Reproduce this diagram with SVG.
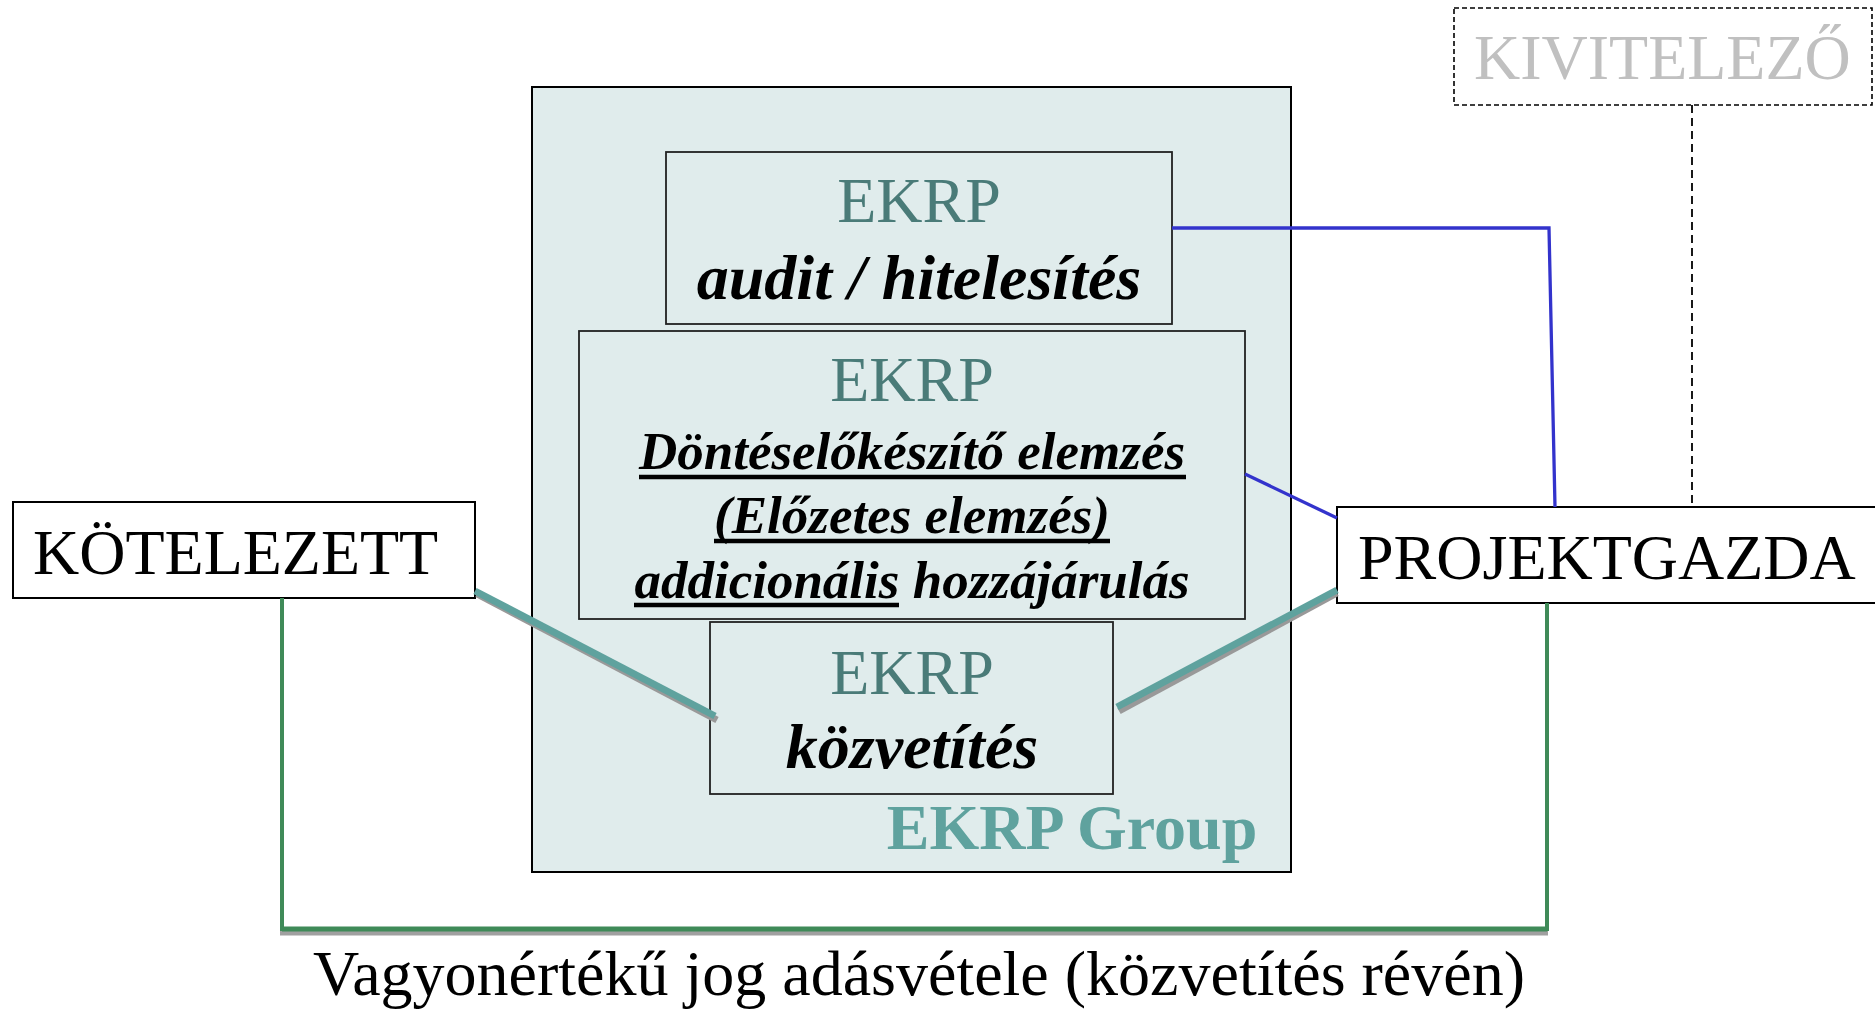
<svg xmlns="http://www.w3.org/2000/svg" width="1875" height="1010" viewBox="0 0 1875 1010">
<style>
.serif{font-family:"Liberation Serif","Times New Roman",serif}
.ekrp{font-family:"Liberation Serif",serif;font-size:64px;fill:#4a7b78;text-anchor:middle}
.bi{font-family:"Liberation Serif",serif;font-weight:bold;font-style:italic;fill:#000;text-anchor:middle}
.box{fill:none;stroke:#222;stroke-width:1.8}
.wbox{fill:#fff;stroke:#000;stroke-width:2}
.lbl{font-family:"Liberation Serif",serif;font-size:64px;fill:#000}
.ul{stroke:#000;stroke-width:4.5}
</style>
<rect width="1875" height="1010" fill="#fff"/>
<g id="ekrp-group">
  <rect x="532" y="87" width="759" height="785" fill="#e0ecec" stroke="#000" stroke-width="2"/>
  <text x="1072" y="849" class="serif" font-size="64" font-weight="bold" fill="#5fa29e" text-anchor="middle">EKRP Group</text>
</g>
<g id="audit">
  <rect x="666" y="152" width="506" height="172" class="box"/>
  <text x="919" y="222" class="ekrp">EKRP</text>
  <text x="919" y="299" class="bi" font-size="64">audit / hitelesítés</text>
</g>
<g id="dontes">
  <rect x="579" y="331" width="666" height="288" class="box"/>
  <text x="912" y="401" class="ekrp">EKRP</text>
  <text x="912" y="469" class="bi" font-size="53">Döntéselőkészítő elemzés</text>
  <text x="912" y="533" class="bi" font-size="53">(Előzetes elemzés)</text>
  <text x="912" y="598" class="bi" font-size="53">addicionális hozzájárulás</text>
  <line x1="639" y1="477" x2="1186" y2="477" class="ul"/>
  <line x1="714" y1="541" x2="1110" y2="541" class="ul"/>
  <line x1="634" y1="605" x2="899" y2="605" class="ul"/>
</g>
<g id="kozvetites">
  <rect x="710" y="622" width="403" height="172" class="box"/>
  <text x="912" y="694" class="ekrp">EKRP</text>
  <text x="912" y="768" class="bi" font-size="64">közvetítés</text>
</g>
<g id="kotelezett">
  <rect x="13" y="502" width="462" height="96" class="wbox"/>
  <text x="33" y="574" class="lbl">KÖTELEZETT</text>
</g>
<g id="projektgazda">
  <rect x="1337" y="507" width="545" height="96" class="wbox"/>
  <text x="1358" y="579" class="lbl">PROJEKTGAZDA</text>
</g>
<g id="kivitelezo">
  <rect x="1454" y="8" width="418" height="97" fill="#fff" stroke="#000" stroke-width="1.6" stroke-dasharray="5,3"/>
  <text x="1474" y="79" class="lbl" style="fill:#c0c0c0">KIVITELEZŐ</text>
</g>
<g id="connectors" fill="none">
  <line x1="1692" y1="105" x2="1692" y2="507" stroke="#000" stroke-width="1.8" stroke-dasharray="8,5"/>
  <polyline points="1172,228 1549,228 1555,507" stroke="#3333cc" stroke-width="3.3"/>
  <line x1="1245" y1="474" x2="1337" y2="518" stroke="#3333cc" stroke-width="3.3"/>
  <line x1="477" y1="594" x2="717" y2="720" stroke="#999" stroke-width="7"/>
  <line x1="475" y1="591" x2="715" y2="716" stroke="#5fa29e" stroke-width="7"/>
  <line x1="1337" y1="593" x2="1119" y2="711" stroke="#999" stroke-width="7"/>
  <line x1="1337" y1="590" x2="1117" y2="707" stroke="#5fa29e" stroke-width="7"/>
  <line x1="280" y1="933" x2="1548" y2="933" stroke="#a0a0a0" stroke-width="5"/>
  <polyline points="282,598 282,929 1547,929 1547,603" stroke="#3f8a58" stroke-width="4"/>
  <line x1="282" y1="929" x2="1547" y2="929" stroke="#3f8a58" stroke-width="5"/>
</g>
<text x="919" y="995" class="lbl" text-anchor="middle">Vagyonértékű jog adásvétele (közvetítés révén)</text>
</svg>
